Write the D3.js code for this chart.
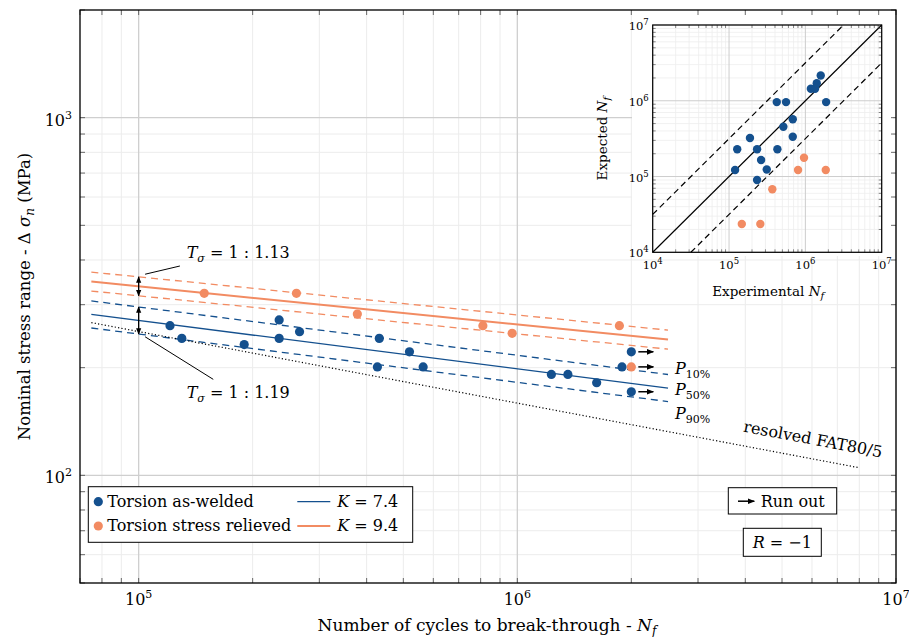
<!DOCTYPE html>
<html>
<head>
<meta charset="utf-8">
<script src="https://cdn.jsdelivr.net/npm/d3@7"></script>
<style>
  body { margin: 0; background: #fff; }
  text { font-family: "DejaVu Serif", "Liberation Serif", serif; fill: #000; }
</style>
</head>
<body>
<div class="chart"></div>
<script>
// ---- data ----
const weldedN = [1.21e5, 1.30e5, 1.90e5, 2.35e5, 2.35e5, 2.66e5, 4.32e5, 5.19e5, 4.27e5, 5.64e5, 1.23e6, 1.36e6, 1.62e6, 1.89e6, 2.0e6, 2.0e6]
const weldedS = [262, 241.5, 232, 272, 241.5, 252, 241.5, 221.5, 201, 201, 191.5, 191.5, 181.5, 201, 221.5, 171.3]
const weldedRunout = [0, 0, 0, 0, 0, 0, 0, 0, 0, 0, 0, 0, 0, 0, 1, 1]

const relievedN = [1.49e5, 2.61e5, 3.78e5, 8.11e5, 9.69e5, 1.86e6, 2.0e6]
const relievedS = [322.7, 322.7, 282.4, 262, 249.5, 262, 201]
const relievedRunout = [0, 0, 0, 0, 0, 0, 1]

// fitted curves, end points (N, stress)
const fitN = [7.5e4, 2.5e6]
const weldedP10 = [307.3, 191.4]
const weldedP50 = [281.7, 175.4]
const weldedP90 = [258.2, 160.8]
const relievedP10 = [370.0, 254.7]
const relievedP50 = [348.1, 239.6]
const relievedP90 = [327.5, 225.4]
const fatN = [7.5e4, 8e6]
const fatS = [267.3, 105.0]

// scatter band arrows at N = 1e5
const tsN = 1e5
const tsRelieved = [317.6, 358.9]
const tsWelded = [248.4, 295.6]

const legendNames = ["Torsion as-welded", "Torsion stress relieved"]
const legendK = ["7.4", "9.4"]
const pLabels = ["10%", "50%", "90%"]

// inset: experimental vs expected
const insetWeldedExp = [1.2e5, 1.28e5, 1.88e5, 2.33e5, 2.33e5, 2.63e5, 3.12e5, 4.22e5, 4.3e5, 5.58e5, 5.15e5, 6.84e5, 6.84e5, 1.18e6, 1.34e6, 1.41e6, 1.59e6, 1.87e6]
const insetWeldedPred = [1.22e5, 2.29e5, 3.22e5, 2.29e5, 9.0e4, 1.65e5, 1.24e5, 9.6e5, 2.29e5, 9.6e5, 4.54e5, 5.69e5, 3.35e5, 1.44e6, 1.44e6, 1.7e6, 2.16e6, 9.6e5]
const insetRelievedExp = [1.47e5, 2.57e5, 3.69e5, 8.02e5, 9.6e5, 1.85e6]
const insetRelievedPred = [2.36e4, 2.36e4, 6.78e4, 1.22e5, 1.77e5, 1.22e5]
const bandUpper = [[1e4, 3.16e4], [3.16e6, 1e7]]
const bandLower = [[3.16e4, 1e4], [1e7, 3.16e6]]
const diagonal = [[1e4, 1e4], [1e7, 1e7]]

const blue = "#14508e", orange = "#f28b62"
const FS = 16, SUB = 11

// ---- layout ----
const margin = ({top: 10, right: 13, bottom: 54, left: 80})
const width = 909 - margin.left - margin.right,
  height = 637 - margin.top - margin.bottom

const svg = d3.select(".chart").append("svg")
  .attr("width", 909)
  .attr("height", 637)

const defs = svg.append("defs")
defs.append("marker")
  .attr("id", "arr")
  .attr("viewBox", "0 0 10 10")
  .attr("refX", 9).attr("refY", 5)
  .attr("markerWidth", 5).attr("markerHeight", 5)
  .attr("orient", "auto-start-reverse")
  .append("path").attr("d", "M0,1 L10,5 L0,9 z").attr("fill", "black")

const g = svg.append("g")
  .attr("transform", `translate(${margin.left},${margin.top})`)

const xScale = d3.scaleLog().domain([7e4, 1e7]).range([0, width])
const yScale = d3.scaleLog().domain([50, 2000]).range([height, 0])

const isMajor = v => Math.abs(Math.log10(v) - Math.round(Math.log10(v))) < 1e-6

// grid
g.append("g").selectAll("line")
  .data(xScale.ticks().filter(v => !isMajor(v)))
  .join("line")
  .attr("x1", d => xScale(d)).attr("x2", d => xScale(d))
  .attr("y1", 0).attr("y2", height)
  .attr("stroke", "#ececec").attr("stroke-width", 1)
g.append("g").selectAll("line")
  .data(yScale.ticks().filter(v => !isMajor(v)))
  .join("line")
  .attr("y1", d => yScale(d)).attr("y2", d => yScale(d))
  .attr("x1", 0).attr("x2", width)
  .attr("stroke", "#ececec").attr("stroke-width", 1)
g.append("g").selectAll("line")
  .data(xScale.ticks().filter(isMajor))
  .join("line")
  .attr("x1", d => xScale(d)).attr("x2", d => xScale(d))
  .attr("y1", 0).attr("y2", height)
  .attr("stroke", "#cfcfcf").attr("stroke-width", 1.3)
g.append("g").selectAll("line")
  .data(yScale.ticks().filter(isMajor))
  .join("line")
  .attr("y1", d => yScale(d)).attr("y2", d => yScale(d))
  .attr("x1", 0).attr("x2", width)
  .attr("stroke", "#cfcfcf").attr("stroke-width", 1.3)

// lines
const line = d3.line().x(d => xScale(d[0])).y(d => yScale(d[1]))
const pairs = (ns, ss) => ns.map((n, i) => [n, ss[i]])

const curves = [
  {d: pairs(fitN, relievedP10), c: orange, w: 1.3, dash: "7,5"},
  {d: pairs(fitN, relievedP90), c: orange, w: 1.3, dash: "7,5"},
  {d: pairs(fitN, relievedP50), c: orange, w: 2, dash: null},
  {d: pairs(fitN, weldedP10), c: blue, w: 1.3, dash: "7,5"},
  {d: pairs(fitN, weldedP90), c: blue, w: 1.3, dash: "7,5"},
  {d: pairs(fitN, weldedP50), c: blue, w: 1.3, dash: null},
  {d: pairs(fatN, fatS), c: "black", w: 1.2, dash: "1.2,2.2"}
]
g.append("g").selectAll("path")
  .data(curves)
  .join("path")
  .attr("d", d => line(d.d))
  .attr("fill", "none")
  .attr("stroke", d => d.c)
  .attr("stroke-width", d => d.w)
  .attr("stroke-dasharray", d => d.dash)

// rich text helper: parts {t, i, sh (px down), fs}
function rich(text, parts) {
  let cur = 0
  parts.forEach(p => {
    const sh = p.sh || 0
    const ts = text.append("tspan").text(p.t).attr("dy", sh - cur)
    cur = sh
    if (p.i) ts.attr("font-style", "italic")
    if (p.fs) ts.attr("font-size", p.fs)
  })
  return text
}

// P labels
const pEnds = [weldedP10[1], weldedP50[1], weldedP90[1]]
const pOffset = [0, 6.5, 17]
pLabels.forEach((p, i) => {
  rich(g.append("text")
    .attr("x", xScale(fitN[1]) + 7)
    .attr("y", yScale(pEnds[i]) + pOffset[i])
    .attr("font-size", FS),
    [{t: "P", i: true}, {t: p, sh: 4, fs: SUB}])
})

// FAT label
const fa = Math.atan2(yScale(fatS[1]) - yScale(fatS[0]), xScale(fatN[1]) - xScale(fatN[0])) * 180 / Math.PI
g.append("text")
  .attr("transform", `translate(${xScale(6.0e6)},${yScale(121.9)}) rotate(${fa})`)
  .attr("text-anchor", "middle")
  .attr("font-size", FS)
  .text("resolved FAT80/5")

// scatter band arrows
;[tsRelieved, tsWelded].forEach(r => {
  g.append("line")
    .attr("x1", xScale(tsN)).attr("x2", xScale(tsN))
    .attr("y1", yScale(r[0])).attr("y2", yScale(r[1]))
    .attr("stroke", "black").attr("stroke-width", 1.3)
    .attr("marker-start", "url(#arr)").attr("marker-end", "url(#arr)")
})
const leaders = [
  {from: [1.04e5, 365], to: [1.285e5, 384.8], txt: [1.339e5, 404], v: "1.13"},
  {from: [1.04e5, 244], to: [1.574e5, 185.5], txt: [1.339e5, 164.4], v: "1.19"}
]
leaders.forEach(l => {
  g.append("line")
    .attr("x1", xScale(l.from[0])).attr("y1", yScale(l.from[1]))
    .attr("x2", xScale(l.to[0])).attr("y2", yScale(l.to[1]))
    .attr("stroke", "black").attr("stroke-width", 1)
  rich(g.append("text")
    .attr("x", xScale(l.txt[0])).attr("y", yScale(l.txt[1]))
    .attr("font-size", FS),
    [{t: "T", i: true}, {t: "σ", i: true, sh: 4, fs: SUB}, {t: " = 1 : " + l.v, sh: 0}])
})

// points
const welded = weldedN.map((n, i) => ({n, s: weldedS[i], r: weldedRunout[i]}))
const relieved = relievedN.map((n, i) => ({n, s: relievedS[i], r: relievedRunout[i]}))

g.append("g").selectAll("circle")
  .data(welded).join("circle")
  .attr("cx", d => xScale(d.n)).attr("cy", d => yScale(d.s))
  .attr("r", 4.6).attr("fill", blue)
g.append("g").selectAll("circle")
  .data(relieved).join("circle")
  .attr("cx", d => xScale(d.n)).attr("cy", d => yScale(d.s))
  .attr("r", 4.6).attr("fill", orange)

g.append("g").selectAll("line")
  .data(welded.concat(relieved).filter(d => d.r))
  .join("line")
  .attr("x1", d => xScale(d.n) + 7).attr("x2", d => xScale(d.n) + 22)
  .attr("y1", d => yScale(d.s)).attr("y2", d => yScale(d.s))
  .attr("stroke", "black").attr("stroke-width", 1.5)
  .attr("marker-end", "url(#arr)")

// legend
const lg = g.append("g").attr("transform", "translate(8.3,476.7)")
lg.append("rect").attr("width", 324.4).attr("height", 55.6)
  .attr("fill", "white").attr("stroke", "black").attr("stroke-width", 1)
legendNames.forEach((name, i) => {
  const cy = 15 + i * 24.3
  lg.append("circle").attr("cx", 10).attr("cy", cy).attr("r", 4.6).attr("fill", i ? orange : blue)
  lg.append("text").attr("x", 19).attr("y", cy + 5.5).attr("font-size", FS).text(name)
  lg.append("line").attr("x1", 209).attr("x2", 242).attr("y1", cy).attr("y2", cy)
    .attr("stroke", i ? orange : blue).attr("stroke-width", i ? 2 : 1.3)
  rich(lg.append("text").attr("x", 249).attr("y", cy + 5.5).attr("font-size", FS),
    [{t: "K", i: true}, {t: " = " + legendK[i]}])
})

// run out box
const rb = g.append("g").attr("transform", "translate(648.3,477.7)")
rb.append("rect").attr("width", 108.4).attr("height", 26.3)
  .attr("fill", "white").attr("stroke", "black").attr("stroke-width", 1)
rb.append("line").attr("x1", 9.7).attr("x2", 26).attr("y1", 13.5).attr("y2", 13.5)
  .attr("stroke", "black").attr("stroke-width", 1.5).attr("marker-end", "url(#arr)")
rb.append("text").attr("x", 32.4).attr("y", 19).attr("font-size", FS).text("Run out")

const rr = g.append("g").attr("transform", "translate(663.3,518.3)")
rr.append("rect").attr("width", 78).attr("height", 28)
  .attr("fill", "white").attr("stroke", "black").attr("stroke-width", 1)
rich(rr.append("text").attr("x", 39).attr("y", 20).attr("text-anchor", "middle").attr("font-size", FS),
  [{t: "R", i: true}, {t: " = −1"}])

// ---- inset ----
g.append("rect").attr("x", 552).attr("y", 1).attr("width", 261).attr("height", 245)
  .attr("fill", "white")

const ig = g.append("g").attr("transform", "translate(572.7,15)")
const iw = 229, ih = 227.3
const xi = d3.scaleLog().domain([1e4, 1e7]).range([0, iw])
const yi = d3.scaleLog().domain([1e4, 1e7]).range([ih, 0])
const IFS = 11.5, ISUB = 8.5, ILAB = 13.5

ig.append("g").selectAll("line")
  .data(xi.ticks().filter(v => !isMajor(v)))
  .join("line")
  .attr("x1", d => xi(d)).attr("x2", d => xi(d)).attr("y1", 0).attr("y2", ih)
  .attr("stroke", "#ededed").attr("stroke-width", 0.8)
ig.append("g").selectAll("line")
  .data(yi.ticks().filter(v => !isMajor(v)))
  .join("line")
  .attr("y1", d => yi(d)).attr("y2", d => yi(d)).attr("x1", 0).attr("x2", iw)
  .attr("stroke", "#ededed").attr("stroke-width", 0.8)
ig.append("g").selectAll("line")
  .data(xi.ticks().filter(isMajor))
  .join("line")
  .attr("x1", d => xi(d)).attr("x2", d => xi(d)).attr("y1", 0).attr("y2", ih)
  .attr("stroke", "#cdcdcd").attr("stroke-width", 1)
ig.append("g").selectAll("line")
  .data(yi.ticks().filter(isMajor))
  .join("line")
  .attr("y1", d => yi(d)).attr("y2", d => yi(d)).attr("x1", 0).attr("x2", iw)
  .attr("stroke", "#cdcdcd").attr("stroke-width", 1)

const iline = d3.line().x(d => xi(d[0])).y(d => yi(d[1]))
ig.append("path").attr("d", iline(diagonal)).attr("stroke", "black").attr("stroke-width", 1.2).attr("fill", "none")
;[bandUpper, bandLower].forEach(b => {
  ig.append("path").attr("d", iline(b)).attr("stroke", "black").attr("stroke-width", 1.2)
    .attr("fill", "none").attr("stroke-dasharray", "6,4")
})

ig.append("g").selectAll("circle")
  .data(insetWeldedExp.map((e, i) => [e, insetWeldedPred[i]]))
  .join("circle")
  .attr("cx", d => xi(d[0])).attr("cy", d => yi(d[1])).attr("r", 4.2).attr("fill", blue)
ig.append("g").selectAll("circle")
  .data(insetRelievedExp.map((e, i) => [e, insetRelievedPred[i]]))
  .join("circle")
  .attr("cx", d => xi(d[0])).attr("cy", d => yi(d[1])).attr("r", 4.2).attr("fill", orange)

// inset ticks
const iticks = ig.append("g").attr("stroke", "#555").attr("stroke-width", 0.7)
xi.ticks().forEach(v => {
  const L = isMajor(v) ? 0 : 3
  iticks.append("line").attr("x1", xi(v)).attr("x2", xi(v)).attr("y1", ih).attr("y2", ih - L)
  iticks.append("line").attr("x1", xi(v)).attr("x2", xi(v)).attr("y1", 0).attr("y2", L)
})
yi.ticks().forEach(v => {
  const L = isMajor(v) ? 0 : 3
  iticks.append("line").attr("y1", yi(v)).attr("y2", yi(v)).attr("x1", 0).attr("x2", L)
  iticks.append("line").attr("y1", yi(v)).attr("y2", yi(v)).attr("x1", iw).attr("x2", iw - L)
})
ig.append("rect").attr("width", iw).attr("height", ih)
  .attr("fill", "none").attr("stroke", "black").attr("stroke-width", 1.2)

xi.ticks().filter(isMajor).forEach(v => {
  rich(ig.append("text").attr("x", xi(v)).attr("y", ih + 16.5).attr("text-anchor", "middle").attr("font-size", IFS),
    [{t: "10"}, {t: String(Math.round(Math.log10(v))), sh: -5, fs: ISUB}])
})
yi.ticks().filter(isMajor).forEach(v => {
  rich(ig.append("text").attr("x", -4).attr("y", yi(v) + 5).attr("text-anchor", "end").attr("font-size", IFS),
    [{t: "10"}, {t: String(Math.round(Math.log10(v))), sh: -5, fs: ISUB}])
})
rich(ig.append("text").attr("x", iw / 2 + 1).attr("y", ih + 44).attr("text-anchor", "middle").attr("font-size", ILAB),
  [{t: "Experimental "}, {t: "N", i: true}, {t: "f", i: true, sh: 3, fs: 10}])
rich(ig.append("text").attr("transform", `translate(-46,${ih / 2}) rotate(-90)`).attr("text-anchor", "middle").attr("font-size", ILAB),
  [{t: "Expected "}, {t: "N", i: true}, {t: "f", i: true, sh: 3, fs: 10}])

// ---- main frame, ticks, labels ----
const ticks = g.append("g").attr("stroke", "#444").attr("stroke-width", 0.8)
xScale.ticks().forEach(v => {
  ticks.append("line").attr("x1", xScale(v)).attr("x2", xScale(v)).attr("y1", height).attr("y2", height - 5)
  ticks.append("line").attr("x1", xScale(v)).attr("x2", xScale(v)).attr("y1", 0).attr("y2", 5)
})
yScale.ticks().forEach(v => {
  ticks.append("line").attr("y1", yScale(v)).attr("y2", yScale(v)).attr("x1", 0).attr("x2", 5)
  ticks.append("line").attr("y1", yScale(v)).attr("y2", yScale(v)).attr("x1", width).attr("x2", width - 5)
})
g.append("rect").attr("width", width).attr("height", height)
  .attr("fill", "none").attr("stroke", "black").attr("stroke-width", 1.3)

xScale.ticks().filter(isMajor).forEach(v => {
  rich(g.append("text").attr("x", xScale(v)).attr("y", height + 22).attr("text-anchor", "middle").attr("font-size", FS),
    [{t: "10"}, {t: String(Math.round(Math.log10(v))), sh: -7, fs: SUB}])
})
yScale.ticks().filter(isMajor).forEach(v => {
  rich(g.append("text").attr("x", -8).attr("y", yScale(v) + 8).attr("text-anchor", "end").attr("font-size", FS),
    [{t: "10"}, {t: String(Math.round(Math.log10(v))), sh: -7, fs: SUB}])
})

rich(g.append("text").attr("x", width / 2 - 1).attr("y", height + 48).attr("text-anchor", "middle").attr("font-size", 17),
  [{t: "Number of cycles to break-through - "}, {t: "N", i: true}, {t: "f", i: true, sh: 4, fs: 12}])
rich(g.append("text").attr("transform", `translate(-50,${height / 2}) rotate(-90)`).attr("text-anchor", "middle").attr("font-size", 16.5),
  [{t: "Nominal stress range - Δ "}, {t: "σ", i: true}, {t: "n", i: true, sh: 4, fs: 12}, {t: "  (MPa)", sh: 0}])
</script>
</body>
</html>
